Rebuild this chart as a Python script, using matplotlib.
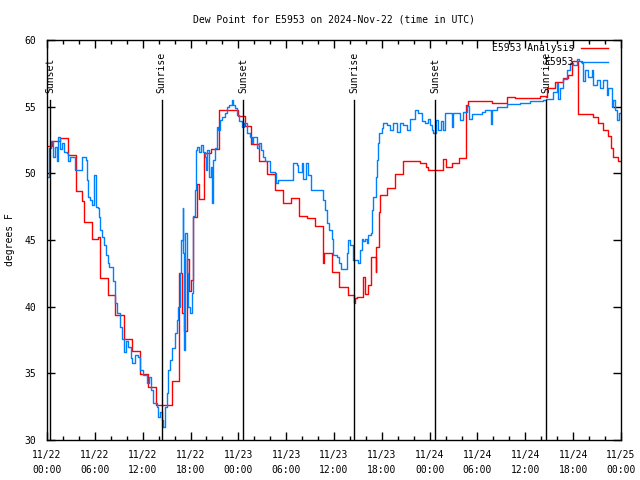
import numpy as np
import matplotlib
matplotlib.use('Agg')
import matplotlib.pyplot as plt

# analysis (red), hours since 11/22 00:00 UTC
red_h = [0.0, 0.59, 1.67, 2.6, 3.64, 4.43, 4.68, 5.61, 6.43, 6.61, 7.61, 8.53, 9.62,
         10.62, 11.63, 12.63, 13.67, 15.64, 16.6, 16.9, 17.15, 17.55, 17.75, 18.1,
         18.35, 18.78, 19.1, 19.7, 20.57, 21.58, 24.0, 24.8, 25.63, 26.63, 27.56,
         28.64, 29.64, 30.64, 31.65, 32.65, 33.66, 34.66, 34.8, 35.69, 36.67, 37.72,
         38.55, 38.65, 38.92, 39.68, 39.83, 40.3, 40.68, 41.27, 41.33, 41.6, 41.77,
         42.59, 43.65, 44.62, 44.7, 45.75, 46.8, 47.54, 47.83, 49.63, 50.05, 50.77,
         51.72, 52.56, 52.85, 55.78, 57.74, 58.7, 61.84, 62.6, 62.68, 63.72, 64.76,
         65.39, 65.82, 66.65, 68.53, 69.16, 69.71, 70.41, 70.71, 71.04, 71.66, 72.0]
red_v = [52.05, 52.4, 52.65, 51.35, 48.65, 47.95, 46.35, 45.07, 45.2, 42.15, 40.9, 39.37, 37.6,
         36.67, 34.92, 33.95, 32.6, 34.4, 42.5, 39.5, 38.2, 43.6, 41.2, 42.0,
         46.75, 49.2, 48.07, 51.5, 51.85, 54.75, 54.3, 53.55, 52.2, 50.93, 49.92,
         48.75, 47.75, 48.12, 46.8, 46.63, 46.08, 43.3, 44.05, 42.6, 41.5, 40.85,
         40.25, 40.63, 40.75, 42.2, 40.95, 41.6, 43.75, 42.6, 44.5, 47.1, 48.4,
         48.9, 49.93, 50.4, 50.9, 50.95, 50.8, 50.45, 50.25, 51.05, 50.5, 50.8,
         51.13, 55.1, 55.4, 55.3, 55.75, 55.63, 55.8, 55.75, 56.43, 56.88, 57.13,
         57.4, 58.4, 54.43, 54.2, 53.75, 53.25, 52.8, 51.88, 51.25, 50.9, 50.9]

# station obs (blue)
obs_h = [0.0, 0.25, 0.5, 0.75, 1.0, 1.25, 1.42, 1.63, 1.88, 2.13, 2.51, 2.63, 2.89, 3.51,
         4.43, 4.85, 4.98, 5.18, 5.39, 5.61, 5.93, 6.11, 6.36, 6.52, 6.65, 6.86, 7.19,
         7.36, 7.61, 7.78, 8.12, 8.32, 8.53, 8.74, 9.16, 9.45, 9.66, 9.87, 10.2, 10.5,
         10.7, 11.04, 11.38, 11.67, 12.08, 12.51, 12.79, 13.05, 13.33, 13.76, 13.96,
         14.17, 14.39, 14.59, 14.8, 15.02, 15.22, 15.43, 15.72, 16.06, 16.27, 16.47,
         16.68, 16.87, 17.02, 17.12, 17.22, 17.31, 17.52, 17.69, 17.94, 18.19, 18.35,
         18.57, 18.65, 18.82, 19.07, 19.32, 19.6, 19.82, 19.95, 20.11, 20.36, 20.57,
         20.7, 20.86, 21.07, 21.29, 21.49, 21.7, 21.95, 22.33, 22.54, 22.87, 23.17,
         23.37, 23.58, 23.87, 24.12, 24.42, 24.75, 25.05, 25.46, 25.68, 25.88, 26.3,
         26.63, 26.84, 27.13, 27.35, 27.76, 27.97, 28.6, 28.73, 29.01, 30.7, 30.9,
         31.32, 31.52, 31.95, 32.15, 32.49, 32.78, 33.08, 34.53, 34.66, 34.87, 35.16,
         35.41, 35.71, 35.91, 36.34, 36.67, 36.84, 37.38, 37.59, 37.79, 38.01, 38.35,
         39.05, 39.26, 39.48, 39.68, 39.89, 40.1, 40.3, 40.61, 40.73, 40.93, 41.23,
         41.36, 41.48, 41.65, 41.98, 42.19, 42.61, 43.03, 43.44, 43.87, 44.28, 44.69,
         45.12, 45.53, 46.16, 46.57, 47.0, 47.42, 47.83, 48.04, 48.26, 48.46, 48.8,
         49.08, 49.39, 49.64, 49.92, 50.55, 50.76, 50.97, 51.6, 51.81, 52.22, 52.65,
         52.97, 53.27, 54.53, 54.94, 55.7, 55.78, 56.41, 57.74, 59.33, 60.59, 62.26,
         62.6, 63.51, 63.94, 64.14, 64.35, 64.76, 65.19, 65.6, 66.02, 66.44, 66.77,
         67.07, 67.27, 67.49, 67.9, 68.33, 68.53, 68.95, 69.37, 69.78, 70.21, 70.41,
         70.83, 71.04, 71.25, 71.54, 71.79, 72.0]
obs_v = [49.75, 51.9, 52.4, 51.2, 52.0, 50.9, 52.7, 51.8, 52.3, 51.6, 51.5, 50.9, 51.25, 50.25,
         51.2, 51.0, 49.5, 48.25, 48.0, 47.6, 49.9, 47.5, 47.4, 46.75, 45.75, 45.25, 44.6,
         43.9, 43.25, 43.0, 43.0, 41.9, 40.25, 39.5, 38.5, 37.6, 36.6, 37.4, 37.0, 36.15,
         35.75, 36.4, 36.25, 35.25, 34.9, 34.25, 34.75, 33.75, 32.75, 32.5, 31.75,
         32.1, 31.5, 31.0, 32.5, 33.5, 35.25, 36.0, 36.9, 38.0, 39.0, 40.0,
         42.5, 45.0, 47.4, 44.0, 36.75, 45.5, 42.5, 40.0, 39.5, 41.0, 46.8,
         48.75, 51.75, 52.0, 51.6, 52.1, 51.6, 51.25, 50.25, 51.75, 49.75, 50.5,
         47.75, 51.0, 51.9, 53.5, 53.25, 54.0, 54.25, 54.5, 55.0, 55.1, 55.5,
         55.1, 54.9, 54.4, 53.9, 53.5, 53.75, 53.0, 52.75, 52.25, 52.75, 51.9,
         52.25, 51.75, 51.25, 50.9, 50.9, 50.1, 50.0, 49.25, 49.5, 49.5, 50.75,
         50.6, 50.1, 50.75, 49.6, 50.75, 49.9, 48.75, 48.75, 48.0, 47.25, 46.25,
         45.75, 45.1, 43.9, 43.75, 43.25, 42.8, 42.8, 44.0, 45.0, 44.6, 43.5,
         43.3, 44.25, 45.1, 44.9, 45.1, 44.75, 45.4, 45.5, 47.25, 48.25, 49.75,
         51.0, 52.25, 53.0, 53.4, 53.75, 53.6, 53.25, 53.75, 53.1, 53.75, 53.6,
         53.25, 54.1, 54.75, 54.5, 53.9, 53.75, 54.1, 53.6, 53.25, 53.0, 54.0,
         53.25, 53.9, 53.25, 54.5, 54.5, 53.5, 54.5, 54.5, 54.0, 54.6, 55.05,
         54.1, 54.45, 54.6, 54.75, 53.7, 54.75, 54.95, 55.2, 55.3, 55.4, 55.5,
         55.6, 56.1, 56.75, 55.6, 56.4, 57.1, 57.75, 58.25, 58.1, 58.6, 58.4,
         58.25, 56.9, 57.75, 57.25, 57.75, 56.6, 57.0, 56.4, 57.0, 55.9, 56.4,
         55.0, 55.5, 54.75, 54.0, 54.5, 54.5]

sun_h = [0.4, 14.4, 24.6, 38.5, 48.7, 62.6]
sun_lbl = ['Sunset', 'Sunrise', 'Sunset', 'Sunrise', 'Sunset', 'Sunrise']

xt = np.arange(0, 73, 6)
xt_lbl = ['11/22\n00:00', '11/22\n06:00', '11/22\n12:00', '11/22\n18:00',
          '11/23\n00:00', '11/23\n06:00', '11/23\n12:00', '11/23\n18:00',
          '11/24\n00:00', '11/24\n06:00', '11/24\n12:00', '11/24\n18:00',
          '11/25\n00:00']

plt.rcParams['font.family'] = 'DejaVu Sans Mono'
plt.rcParams['font.size'] = 7

fig = plt.figure(figsize=(6.4, 4.8), dpi=100)
ax = fig.add_axes([47/640, 40/480, 574/640, 400/480])

ax.plot(red_h, red_v, c='#ff0000', lw=1, drawstyle='steps-post')
ax.plot(obs_h, obs_v, c='#0080ff', lw=1, drawstyle='steps-post')

for h, s in zip(sun_h, sun_lbl):
    ax.plot([h, h], [30, 55.5], c='k', lw=1)
    ax.text(h, 56.0, s, rotation=90, ha='center', va='bottom', fontsize=7)

ax.set_xlim(0, 72)
ax.set_ylim(30, 60)
ax.set_xticks(xt)
ax.set_xticklabels(xt_lbl, linespacing=1.7)
ax.set_xticks(np.arange(0, 73, 2), minor=True)
ax.set_yticks(np.arange(30, 61, 5))
ax.tick_params(direction='in', top=True, right=True, length=6, width=1)
ax.tick_params(axis='x', pad=7)
ax.tick_params(axis='y', pad=8)
ax.tick_params(which='minor', direction='in', top=True, length=3, width=1)
for sp in ax.spines.values():
    sp.set_linewidth(1)

ax.text(0.5, 1.05, 'Dew Point for E5953 on 2024-Nov-22 (time in UTC)',
        transform=ax.transAxes, ha='center', va='center')
ax.set_ylabel('degrees F')
ax.yaxis.set_label_coords(-0.055, 0.5)

# gnuplot style key: text right-aligned, sample on the right
ax.text(0.918, 0.98, 'E5953 Analysis', transform=ax.transAxes, ha='right', va='center')
ax.plot([0.930, 0.977], [0.98, 0.98], transform=ax.transAxes, c='#ff0000', lw=1)
ax.text(0.918, 0.945, 'E5953', transform=ax.transAxes, ha='right', va='center')
ax.plot([0.930, 0.977], [0.945, 0.945], transform=ax.transAxes, c='#0080ff', lw=1)

fig.savefig('out.png', dpi=100)
